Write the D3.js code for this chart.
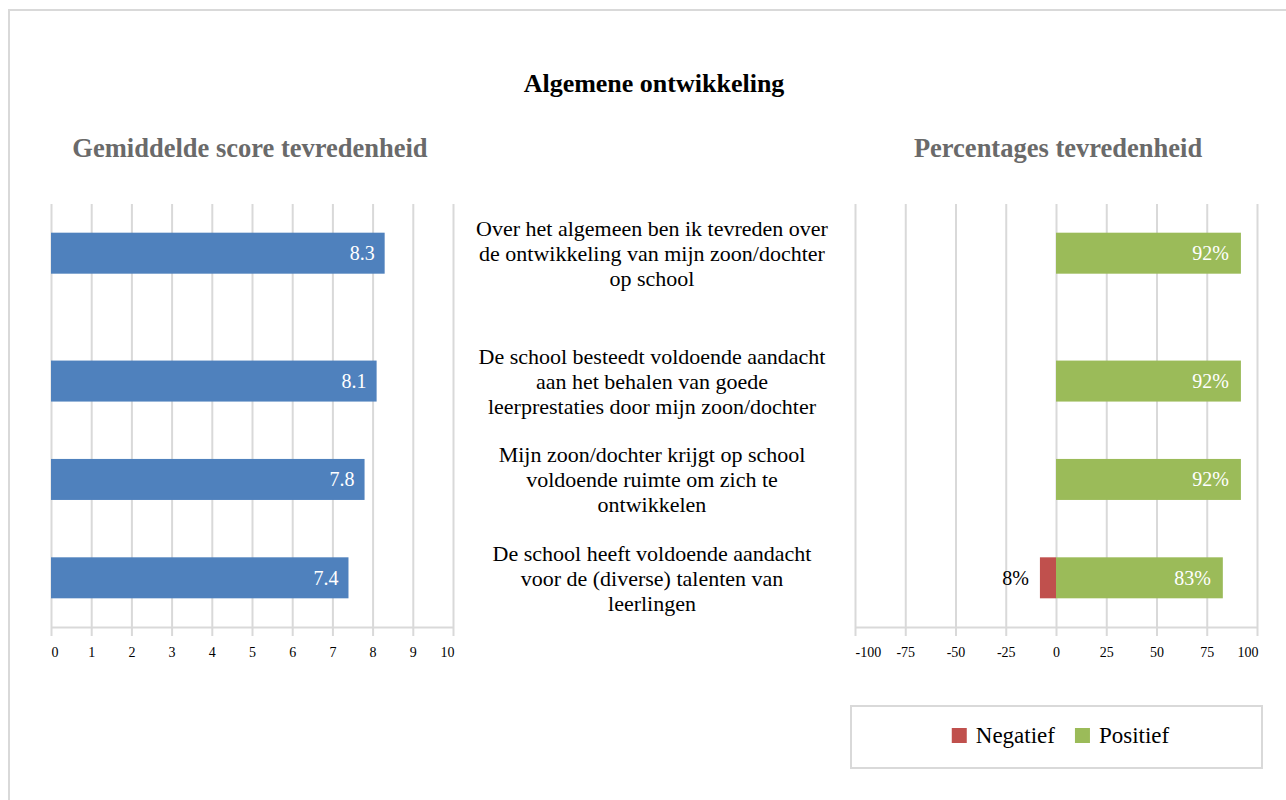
<!DOCTYPE html>
<html>
<head>
<meta charset="utf-8">
<script src="https://cdn.jsdelivr.net/npm/d3@7"></script>
<style>
  body { margin: 0; background: #fff; }
  text { font-family: "Liberation Serif", "Times New Roman", serif; }
</style>
</head>
<body>
<svg id="chart" width="1286" height="800" font-family="Liberation Serif, serif"></svg>
<script>
// ---- data ----
const title = "Algemene ontwikkeling";
const leftTitle = "Gemiddelde score tevredenheid";
const rightTitle = "Percentages tevredenheid";
const questions = [
  ["Over het algemeen ben ik tevreden over", "de ontwikkeling van mijn zoon/dochter", "op school"],
  ["De school besteedt voldoende aandacht", "aan het behalen van goede", "leerprestaties door mijn zoon/dochter"],
  ["Mijn zoon/dochter krijgt op school", "voldoende ruimte om zich te", "ontwikkelen"],
  ["De school heeft voldoende aandacht", "voor de (diverse) talenten van", "leerlingen"]
];
const rowSlots = [0, 1.3, 2.3, 3.3];   // rows are not evenly spaced in the original
const scores = [8.3, 8.1, 7.8, 7.4];
const negatief = [0, 0, 0, 8];
const positief = [92, 92, 92, 83];
const scoreTicks = [0, 1, 2, 3, 4, 5, 6, 7, 8, 9, 10];
const pctTicks = [-100, -75, -50, -25, 0, 25, 50, 75, 100];
const seriesNames = ["Negatief", "Positief"];

const colors = { score: "#4f81bd", Negatief: "#c0504d", Positief: "#9bbb59" };
const gridColor = "#d9d9d9";

const svg = d3.select("#chart");

// outer frame
svg.append("rect")
    .attr("x", 9).attr("y", 10).attr("width", 1290).attr("height", 800)
    .attr("fill", "none").attr("stroke", gridColor).attr("stroke-width", 2);

// titles
svg.append("text")
    .attr("x", 654).attr("y", 92)
    .attr("text-anchor", "middle")
    .style("font-size", "26px").style("font-weight", "bold").style("fill", "#000")
    .text(title);
svg.append("text")
    .attr("x", 250).attr("y", 157)
    .attr("text-anchor", "middle")
    .style("font-size", "26.5px").style("font-weight", "bold").style("fill", "#6a6a6a")
    .text(leftTitle);
svg.append("text")
    .attr("x", 1058).attr("y", 157)
    .attr("text-anchor", "middle")
    .style("font-size", "26.5px").style("font-weight", "bold").style("fill", "#6a6a6a")
    .text(rightTitle);

const plotTop = 204, plotBottom = 627;
const barH = 41;

const y = d3.scaleLinear().domain([-0.5, 3.8]).range([plotTop, plotBottom]);
const xLeft = d3.scaleLinear().domain([0, 10]).range([51, 453]);
const xRight = d3.scaleLinear().domain([-100, 100]).range([855, 1257]);

function drawAxes(x, ticks) {
  // vertical gridlines
  svg.append("g")
      .attr("transform", "translate(0," + plotTop + ")")
      .call(d3.axisBottom(x).tickValues(ticks).tickSize(plotBottom - plotTop).tickFormat(""))
      .call(g => g.select(".domain").remove())
      .call(g => g.selectAll("line").attr("stroke", gridColor).attr("stroke-width", 2));

  const ax = svg.append("g")
      .attr("transform", "translate(0," + plotBottom + ")")
      .call(d3.axisBottom(x).tickValues(ticks).tickSize(9).tickSizeOuter(0).tickPadding(11)
        .tickFormat(d => String(d)));   // plain hyphen, like the original
  ax.attr("font-family", null);
  ax.select(".domain").attr("stroke", gridColor).attr("stroke-width", 2);
  ax.selectAll("line").attr("stroke", gridColor).attr("stroke-width", 2);
  ax.selectAll("text").style("font-size", "14px").style("fill", "#000");
  // keep end labels inside the plot width
  const [r0, r1] = x.range();
  ax.selectAll(".tick").each(function(d) {
    const t = d3.select(this).select("text");
    const w = t.node().getComputedTextLength();
    const cx = x(d);
    if (cx - w / 2 < r0) t.attr("text-anchor", "start").attr("x", r0 - cx);
    else if (cx + w / 2 > r1) t.attr("text-anchor", "end").attr("x", r1 - cx + 1);
  });
}

// ---- left chart: average score ----
drawAxes(xLeft, scoreTicks);

svg.append("g").selectAll("rect")
    .data(scores)
  .enter().append("rect")
    .attr("x", xLeft(0))
    .attr("y", (d, i) => y(rowSlots[i]) - barH / 2)
    .attr("width", d => xLeft(d) - xLeft(0))
    .attr("height", barH)
    .attr("fill", colors.score);

svg.append("g").selectAll("text")
    .data(scores)
  .enter().append("text")
    .attr("x", d => xLeft(d) - 10)
    .attr("y", (d, i) => y(rowSlots[i]) + 7)
    .attr("text-anchor", "end")
    .style("font-size", "20px").style("fill", "#fff")
    .text(d => d3.format(".1f")(d));

// ---- middle: question labels ----
const qLabels = svg.append("g").selectAll("text")
    .data(questions)
  .enter().append("text")
    .attr("text-anchor", "middle")
    .style("font-size", "22px").style("fill", "#000");
qLabels.each(function(lines, i) {
  const t = d3.select(this);
  lines.forEach((line, j) => {
    t.append("tspan")
      .attr("x", 652)
      .attr("y", y(rowSlots[i]) + 8 + (j - 1) * 25)
      .text(line);
  });
});

// ---- right chart: percentages ----
drawAxes(xRight, pctTicks);

const rows = positief.map((p, i) => ({ i: i, Negatief: negatief[i], Positief: p }));

svg.append("g").selectAll("rect")
    .data(rows)
  .enter().append("rect")
    .attr("x", d => xRight(-d.Negatief))
    .attr("y", d => y(rowSlots[d.i]) - barH / 2)
    .attr("width", d => xRight(0) - xRight(-d.Negatief))
    .attr("height", barH)
    .attr("fill", colors.Negatief);

svg.append("g").selectAll("rect")
    .data(rows)
  .enter().append("rect")
    .attr("x", xRight(0))
    .attr("y", d => y(rowSlots[d.i]) - barH / 2)
    .attr("width", d => xRight(d.Positief) - xRight(0))
    .attr("height", barH)
    .attr("fill", colors.Positief);

svg.append("g").selectAll("text")
    .data(rows)
  .enter().append("text")
    .attr("x", d => xRight(d.Positief) - 12)
    .attr("y", d => y(rowSlots[d.i]) + 7)
    .attr("text-anchor", "end")
    .style("font-size", "20px").style("fill", "#fff")
    .text(d => d.Positief + "%");

svg.append("g").selectAll("text")
    .data(rows.filter(d => d.Negatief > 0))
  .enter().append("text")
    .attr("x", d => xRight(-d.Negatief) - 11)
    .attr("y", d => y(rowSlots[d.i]) + 7)
    .attr("text-anchor", "end")
    .style("font-size", "20px").style("fill", "#000")
    .text(d => d.Negatief + "%");

// ---- legend ----
const legendBox = { x: 851, y: 706, w: 411, h: 62 };
svg.append("rect")
    .attr("x", legendBox.x).attr("y", legendBox.y)
    .attr("width", legendBox.w).attr("height", legendBox.h)
    .attr("fill", "#fff").attr("stroke", gridColor).attr("stroke-width", 2);

const legend = svg.append("g");
let lx = 0;
seriesNames.forEach(name => {
  const item = legend.append("g").attr("transform", "translate(" + lx + ",0)");
  item.append("rect").attr("x", 0).attr("y", -15).attr("width", 15).attr("height", 15)
      .attr("fill", colors[name]);
  const t = item.append("text").attr("x", 24).attr("y", 0)
      .style("font-size", "23px").style("fill", "#000").text(name);
  lx += 24 + t.node().getComputedTextLength() + 20;
});
const legendW = lx - 20;
legend.attr("transform", "translate(" + (legendBox.x + legendBox.w / 2 + 4 - legendW / 2) + "," + 743 + ")");
</script>
</body>
</html>
